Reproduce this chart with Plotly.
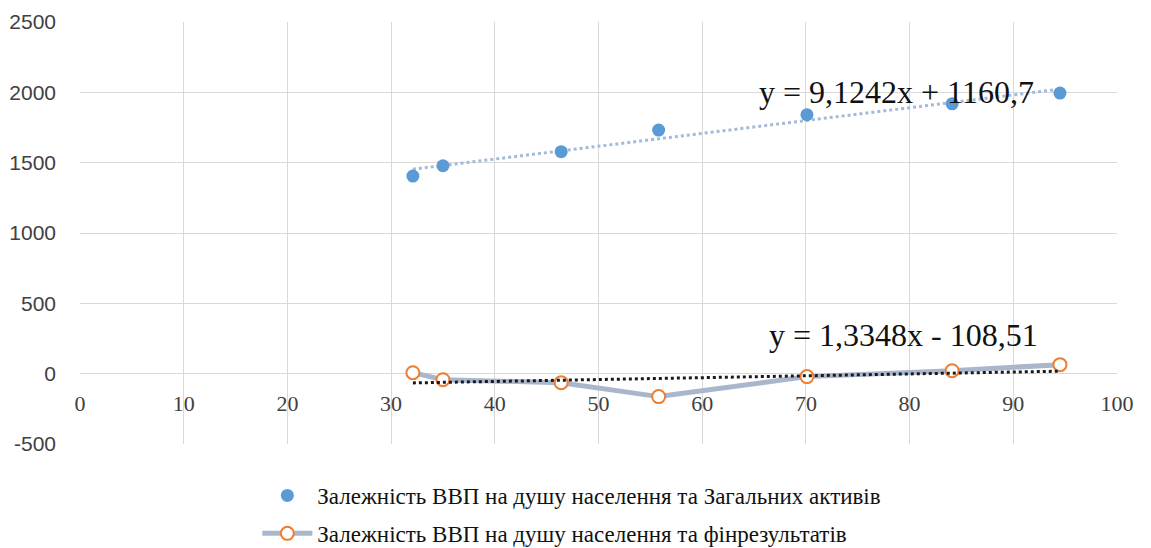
import plotly.graph_objects as go

# GDP per capita (x) against total assets and financial results (y)
gdp_per_capita = [32.1, 35.0, 46.4, 55.8, 70.1, 84.1, 94.5]
total_assets = [1405, 1478, 1578, 1732, 1841, 1918, 1995]
fin_results = [7, -43, -64, -163, -21, 21, 64]

assets_name = "Залежність ВВП на душу населення та Загальних активів"
results_name = "Залежність ВВП на душу населення та фінрезультатів"

# linear trend coefficients (slope, intercept) as printed on the chart
assets_trend = (9.1242, 1160.7)
results_trend = (1.3348, -108.51)

x_ticks = [0, 10, 20, 30, 40, 50, 60, 70, 80, 90, 100]
y_ticks = [-500, 0, 500, 1000, 1500, 2000, 2500]
y_tick_text = ["-500", "0", "500", "1000", "1500", "2000", "2500"]

y_min, y_max = -500, 2500

SERIF = "Liberation Serif, Times New Roman, serif"
SANS = "Liberation Sans, Arial, sans-serif"


def fmt(v, d):
    return f"{abs(v):.{d}f}".replace(".", ",")


x_lo, x_hi = min(gdp_per_capita), max(gdp_per_capita)
trend_x = [x_lo, x_hi]

fig = go.Figure()

# dotted linear trend for total assets
fig.add_trace(go.Scatter(
    x=trend_x, y=[assets_trend[0] * v + assets_trend[1] for v in trend_x],
    mode="lines", line=dict(color="#a3bad8", width=3, dash="dot"),
    showlegend=False, hoverinfo="skip"))

# financial results: grey line with orange hollow markers
fig.add_trace(go.Scatter(
    x=gdp_per_capita, y=fin_results, mode="lines+markers", name=results_name,
    line=dict(color="#a9b6cb", width=5),
    marker=dict(symbol="circle", size=13, color="white",
                line=dict(color="#ed7d31", width=2)),
    legendgroup="b", legendrank=2))

# dotted linear trend for financial results
fig.add_trace(go.Scatter(
    x=trend_x, y=[results_trend[0] * v + results_trend[1] for v in trend_x],
    mode="lines", line=dict(color="#1a1a1a", width=3, dash="dot"),
    showlegend=False, hoverinfo="skip"))

# total assets: filled blue markers
fig.add_trace(go.Scatter(
    x=gdp_per_capita, y=total_assets, mode="markers", name=assets_name,
    marker=dict(symbol="circle", size=13, color="#5b9bd5"),
    legendgroup="a", legendrank=1))

eq_font = dict(family=SERIF, size=32, color="#111111")
fig.add_annotation(
    x=78.7, y=2004, xref="x", yref="y",
    text=f"y = {fmt(assets_trend[0], 4)}x + {fmt(assets_trend[1], 1)}",
    showarrow=False, font=eq_font)
fig.add_annotation(
    x=79.4, y=277, xref="x", yref="y",
    text=f"y = {fmt(results_trend[0], 4)}x - {fmt(results_trend[1], 2)}",
    showarrow=False, font=eq_font)

grid = "#d9d9d9"
fig.update_layout(
    template="none",
    font=dict(family=SERIF, size=20, color="#111111"),
    width=1151, height=548,
    margin=dict(l=80, r=34, t=22, b=104, autoexpand=False),
    paper_bgcolor="white", plot_bgcolor="white",
    xaxis=dict(
        range=[0, 100], tickvals=x_ticks, showgrid=True, gridcolor=grid,
        gridwidth=1, zeroline=False, showline=False, anchor="free",
        position=(0 - y_min) / (y_max - y_min),
        tickfont=dict(family=SERIF, size=22, color="#404040"),
        ticks="", ticklabelstandoff=14),
    yaxis=dict(
        range=[y_min, y_max], tickvals=y_ticks, ticktext=y_tick_text,
        showgrid=True, gridcolor=grid,
        gridwidth=1, zeroline=True, zerolinecolor=grid, zerolinewidth=1,
        showline=False,
        tickfont=dict(family=SANS, size=21, color="#404040"),
        ticks="", ticklabelstandoff=23),
    legend=dict(
        orientation="v", x=0.171, xanchor="left",
        yref="container", y=0.135, yanchor="top",
        font=dict(family=SERIF, size=23, color="#111111"),
        tracegroupgap=5, itemwidth=50, bgcolor="rgba(0,0,0,0)"),
    showlegend=True,
)

fig.write_html("out.html")
